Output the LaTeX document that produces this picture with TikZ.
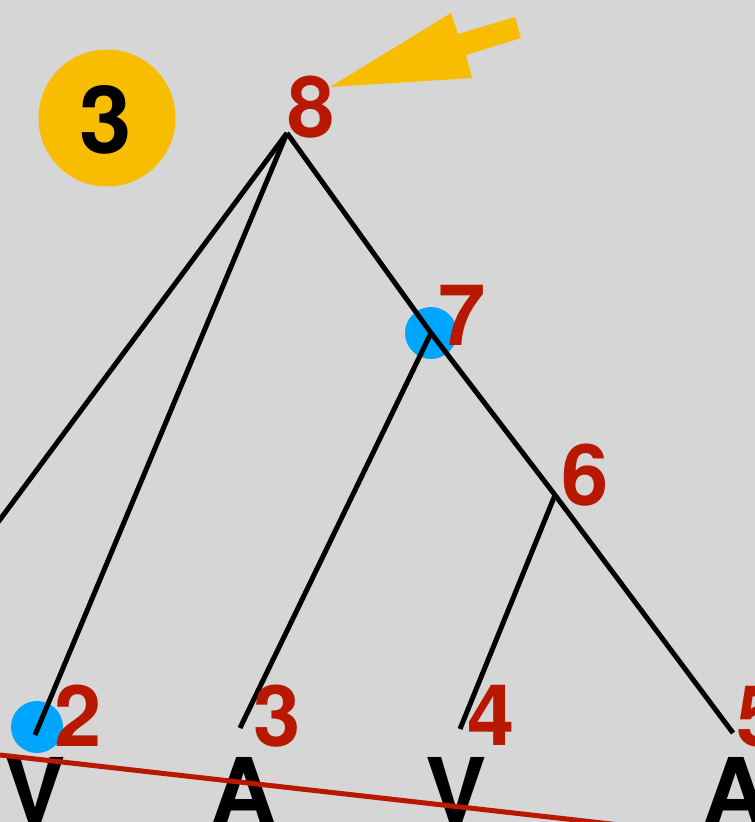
\documentclass[tikz,border=0pt]{standalone}
\usepackage{fontspec}
\setmainfont{TeX Gyre Heros}
\usepackage{xcolor}
\usepackage{tikz}
\usetikzlibrary{positioning}
\definecolor{bgray}{RGB}{214,214,214}
\definecolor{treered}{RGB}{184,24,0}
\definecolor{markyellow}{RGB}{248,188,0}
\definecolor{dotblue}{RGB}{0,165,255}

\begin{document}
\begin{tikzpicture}[x=1pt, y=-1pt,
    branch/.style={line width=5pt, black},
    numlabel/.style={inner sep=0pt, anchor=base, text=treered, font=\fontsize{85}{85}\selectfont\bfseries},
    leaflabel/.style={inner sep=0pt, anchor=base, text=black, font=\fontsize{92}{92}\selectfont\bfseries},
    bluedot/.style={circle, fill=dotblue, minimum size=52pt, inner sep=0pt}]
        \useasboundingbox (0,0) rectangle (755,822);
        \fill[bgray] (0,0) rectangle (755,822);
        \clip (0,0) rectangle (755,822);

        % tree vertices
        \coordinate (n8) at (287,133);
        \coordinate (n7) at (431,333);
        \coordinate (n6) at (555,495);
        \coordinate (n1) at (-160,735);
        \coordinate (n2) at (35,735);
        \coordinate (n3) at (240,728);
        \coordinate (n4) at (460,729);
        \coordinate (n5) at (733,733);

        \node[bluedot] (d7) at (n7) {};
        \node[bluedot] (d2) at (37,727) {};

        \draw[branch] (n8) -- (n1);
        \draw[branch] (n8) -- (n2);
        \draw[branch] (n8) -- (n7);
        \draw[branch] (n7) -- (n6);
        \draw[branch] (n6) -- (n5);
        \draw[branch] (n7) -- (n3);
        \draw[branch] (n6) -- (n4);

        \node[numlabel] (l8) at (311,137) {8};
        \node[numlabel] (l7) at (462,345) {7};
        \node[numlabel] (l6) at (585,505) {6};
        \node[numlabel] (l2) at (78,746) {2};
        \node[numlabel] (l3) at (277,746) {3};
        \node[numlabel] (l4) at (491,745) {4};
        \node[numlabel] (l5) at (760,746) {5};

        \node[leaflabel] (w1) at (35,824) {V};
        \node[leaflabel] (w2) at (244,824) {A};
        \node[leaflabel] (w3) at (456,824) {V};
        \node[leaflabel] (w4) at (736,824) {A};

        % crossing line
        \coordinate (c1) at (0,755);
        \coordinate (c2) at (620,825);
        \draw[treered, line width=5pt] (c1) -- (c2);

        % step badge
        \node[circle, fill=markyellow, minimum size=137pt, inner sep=0pt] (badge) at (107,118) {};
        \node[inner sep=0pt, anchor=base, font=\fontsize{94}{94}\selectfont\bfseries] (bnum) at (106,153) {3};

        % pointer
        \coordinate (tip) at (330,87);
        \fill[markyellow] (tip) -- (472,78) -- (466,55) -- (521,38) -- (515,17) -- (458,34) -- (451,13) -- cycle;
      \end{tikzpicture}
\end{document}
